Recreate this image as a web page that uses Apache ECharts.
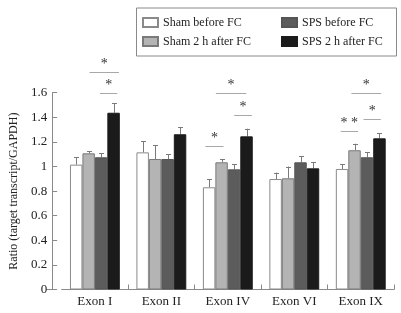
<!DOCTYPE html>
<html>
<head>
<meta charset="utf-8">
<script src="https://cdn.jsdelivr.net/npm/echarts@6/dist/echarts.min.js"></script>
<style>
  html, body { margin: 0; padding: 0; background: #fff; }
  #chart { width: 401px; height: 313px; }
</style>
</head>
<body>
<div id="chart"></div>
<script>
// 类别与数据
const categories = ['Exon I', 'Exon II', 'Exon IV', 'Exon VI', 'Exon IX'];
const seriesNames = ['Sham before FC', 'Sham 2 h after FC', 'SPS before FC', 'SPS 2 h after FC'];

const shamBefore = [1.015, 1.115, 0.831, 0.898, 0.980];
const shamAfter  = [1.107, 1.061, 1.034, 0.904, 1.132];
const spsBefore  = [1.075, 1.061, 0.977, 1.034, 1.075];
const spsAfter   = [1.437, 1.262, 1.245, 0.985, 1.229];

// 误差（只画上半）
const shamBeforeErr = [0.060, 0.090, 0.065, 0.052, 0.038];
const shamAfterErr  = [0.019, 0.114, 0.027, 0.096, 0.053];
const spsBeforeErr  = [0.032, 0.038, 0.041, 0.051, 0.040];
const spsAfterErr   = [0.079, 0.059, 0.062, 0.049, 0.041];

// 显著性标记: [类别, 起始柱, 结束柱, 高度, 文本]
const sigMarks = [
    [0, 1.07, 3.43, 1.771, '*'],
    [0, 1.91, 3.30, 1.595, '*'],
    [2, 0.54, 2.98, 1.595, '*'],
    [2, 2.01, 3.43, 1.419, '*'],
    [2, -0.30, 1.15, 1.164, '*'],
    [4, 0.75, 3.14, 1.595, '*'],
    [4, 1.72, 3.11, 1.384, '*'],
    [4, -0.11, 1.28, 1.291, '* *']
];

const yTicks = { min: 0, max: 1.6, interval: 0.2 };

const means = [shamBefore, shamAfter, spsBefore, spsAfter];
const errs = [shamBeforeErr, shamAfterErr, spsBeforeErr, spsAfterErr];
const fills = ['#ffffff', '#b4b4b4', '#5c5c5c', '#1b1b1b'];
const borders = ['#8a8a8a', '#7a7a7a', '#555555', '#1b1b1b'];
const BAR_FRAC = 0.1875;
const FONT = 'Liberation Serif';

const chart = echarts.init(document.getElementById('chart'));

// 误差线
function errorSeries(idx) {
    return {
        type: 'custom',
        name: seriesNames[idx] + ' err',
        z: 1,
        silent: true,
        data: means[idx].map((v, i) => [i, v, v + errs[idx][i]]),
        renderItem: function (params, api) {
            const band = api.size([1, 0])[0];
            const barW = band * BAR_FRAC;
            const base = api.coord([api.value(0), api.value(1)]);
            const top = api.coord([api.value(0), api.value(2)]);
            const x = Math.round(base[0] + (idx - 1.5) * barW) + 0.5;
            const capHalf = 2.5;
            return {
                type: 'group',
                children: [
                    { type: 'line', shape: { x1: x, y1: base[1], x2: x, y2: top[1] },
                      style: { stroke: '#7a7a7a', lineWidth: 1 } },
                    { type: 'line', shape: { x1: x - capHalf, y1: Math.round(top[1]) + 0.5, x2: x + capHalf, y2: Math.round(top[1]) + 0.5 },
                      style: { stroke: '#7a7a7a', lineWidth: 1 } }
                ]
            };
        }
    };
}

// 显著性横线和星号
const sigSeries = {
    type: 'custom',
    name: 'sig',
    silent: true,
    clip: false,
    data: sigMarks,
    renderItem: function (params, api) {
        const band = api.size([1, 0])[0];
        const barW = band * BAR_FRAC;
        const p = api.coord([api.value(0), api.value(3)]);
        const x1 = p[0] + (api.value(1) - 1.5) * barW;
        const x2 = p[0] + (api.value(2) - 1.5) * barW;
        const y = Math.round(p[1]) + 0.5;
        const txt = sigMarks[params.dataIndex][4];
        return {
            type: 'group',
            children: [
                { type: 'line', shape: { x1: x1, y1: y, x2: x2, y2: y },
                  style: { stroke: '#a8a8a8', lineWidth: 1 } },
                { type: 'text', x: (x1 + x2) / 2, y: y - 1,
                  style: { text: txt, fill: '#333', font: '14px ' + FONT, align: 'center', verticalAlign: 'bottom' } }
            ]
        };
    }
};

const barSeries = seriesNames.map((name, idx) => ({
    name: name,
    type: 'bar',
    barWidth: (BAR_FRAC * 100) + '%',
    barGap: '0%',
    z: 2,
    data: means[idx],
    itemStyle: { color: fills[idx], borderColor: borders[idx], borderWidth: 1 }
}));

const legendText = { fontFamily: FONT, fontSize: 12, color: '#222', lineHeight: 12 };

const option = {
    animation: false,
    backgroundColor: '#fff',
    grid: { left: 56, right: 7, top: 92.7, bottom: 23.5, containLabel: false },
    legend: [
        {
            data: [seriesNames[0], seriesNames[1]],
            orient: 'vertical', left: 142, top: 16.5,
            itemWidth: 15, itemHeight: 9, itemGap: 7, padding: 0,
            textStyle: legendText, icon: 'rect', selectedMode: false
        },
        {
            data: [seriesNames[2], seriesNames[3]],
            orient: 'vertical', left: 281, top: 16.5,
            itemWidth: 15, itemHeight: 9, itemGap: 7, padding: 0,
            textStyle: legendText, icon: 'rect', selectedMode: false
        }
    ],
    graphic: [
        { type: 'rect', left: 134, top: 5.5, shape: { width: 260, height: 48 },
          style: { fill: 'none', stroke: '#8a8a8a', lineWidth: 1 } },
        // x 轴向左延伸到 y 轴
        { type: 'line', shape: { x1: 46.5, y1: 289.5, x2: 56, y2: 289.5 },
          style: { stroke: '#8a8a8a', lineWidth: 1 } }
    ],
    xAxis: {
        type: 'category',
        data: categories,
        axisLine: { show: true, lineStyle: { color: '#8a8a8a', width: 1 } },
        axisTick: { show: true, inside: true, length: 5, lineStyle: { color: '#8a8a8a' },
                    interval: function (index) { return index !== 0; } },
        axisLabel: { fontFamily: FONT, fontSize: 13, color: '#222', margin: 6 }
    },
    yAxis: {
        type: 'value',
        min: yTicks.min, max: yTicks.max, interval: yTicks.interval,
        offset: 9.5,
        name: 'Ratio (target transcript/GAPDH)',
        nameLocation: 'middle',
        nameGap: 28,
        nameTextStyle: { fontFamily: FONT, fontSize: 12, color: '#222' },
        axisLine: { show: true, lineStyle: { color: '#8a8a8a', width: 1 } },
        axisTick: { show: true, inside: true, length: 5, lineStyle: { color: '#8a8a8a' } },
        splitLine: { show: false },
        axisLabel: { fontFamily: FONT, fontSize: 13, color: '#222', margin: 5 }
    },
    series: barSeries.concat([0, 1, 2, 3].map(errorSeries)).concat([sigSeries])
};

chart.setOption(option);

window.addEventListener('resize', function () {
    chart.resize();
});
</script>
</body>
</html>
